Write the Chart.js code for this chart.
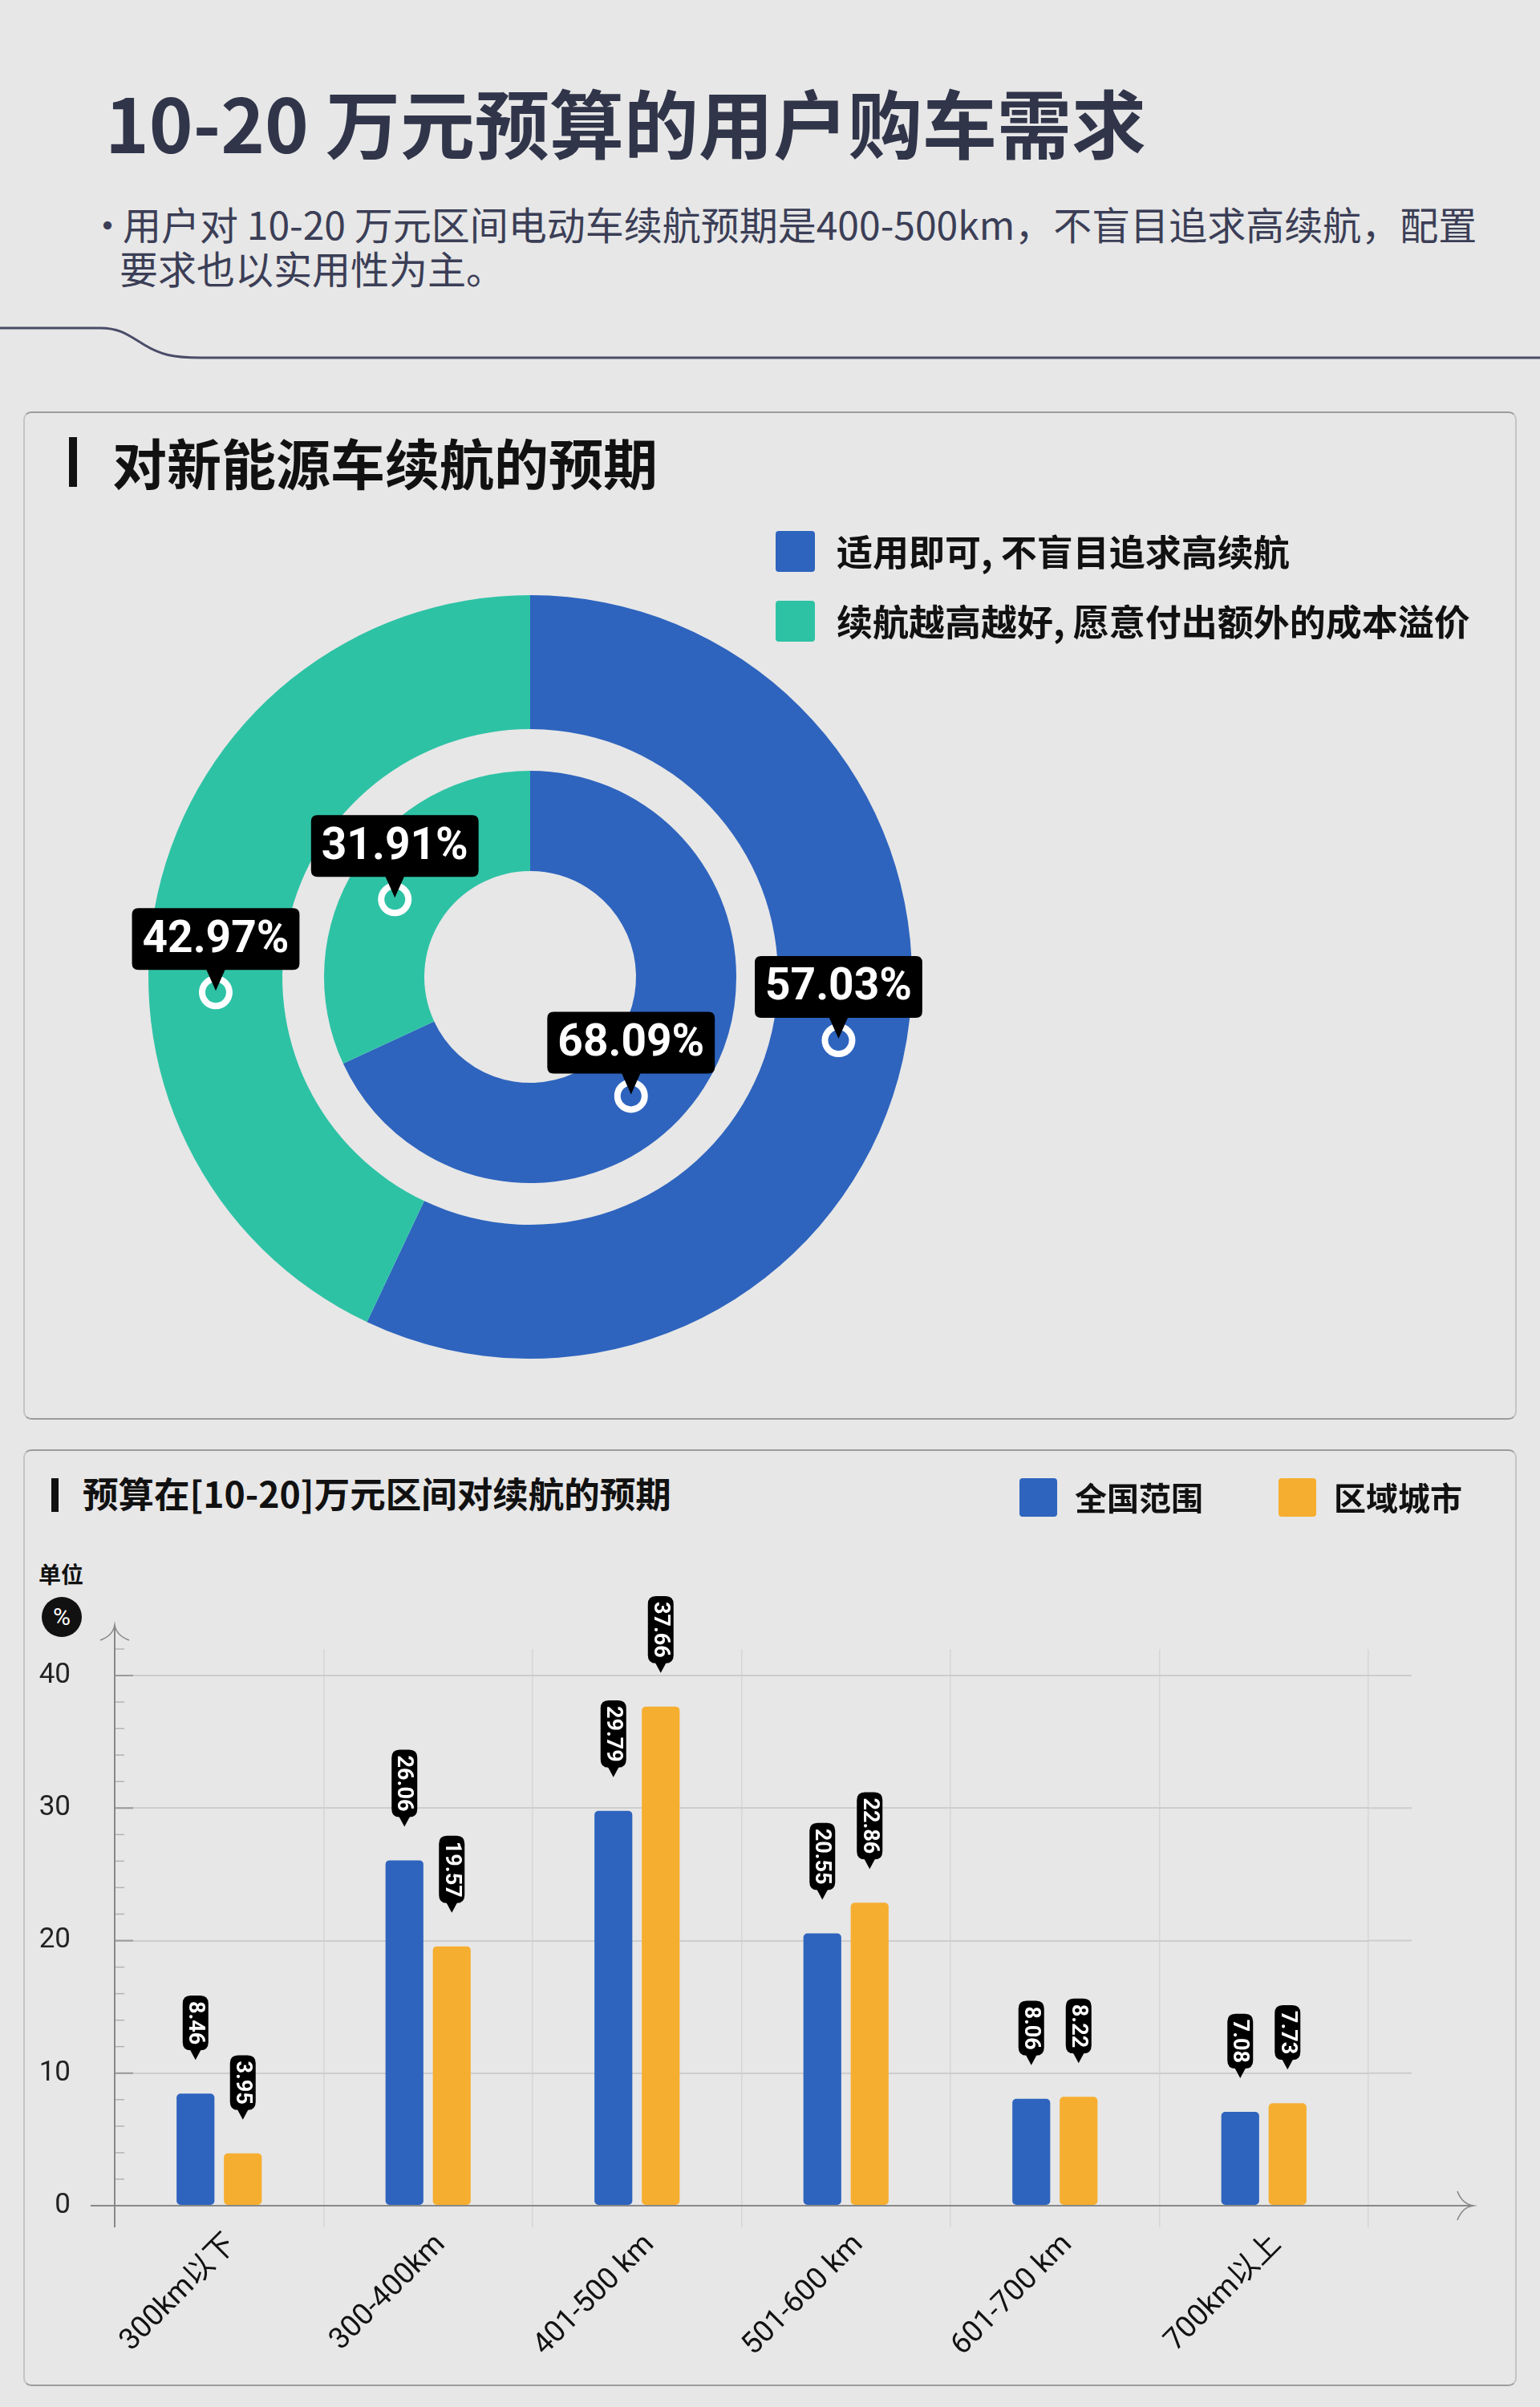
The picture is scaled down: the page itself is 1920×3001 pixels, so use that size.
<!DOCTYPE html>
<html lang="zh-CN">
<head>
<meta charset="utf-8">
<script src="https://cdn.jsdelivr.net/npm/chart.js@4.4.1/dist/chart.umd.min.js"></script>
<style>
html,body{margin:0;padding:0;}
body{width:1920px;height:3001px;background:#e7e7e7;position:relative;overflow:hidden;font-family:"Noto Sans CJK SC","Noto Sans",sans-serif;}
.abs{position:absolute;white-space:nowrap;}
#title{left:131px;top:104px;font-size:93px;line-height:93px;font-weight:700;color:#31354a;}
.sub{font-size:48px;line-height:56px;color:#3b3e56;}
.panel{position:absolute;left:29px;width:1862px;box-sizing:border-box;border:2px solid #c4c4c4;border-top-color:#9c9c9c;border-bottom-color:#9c9c9c;border-radius:10px;}
.ptitle{color:#111;font-weight:700;}
.vbar{position:absolute;background:#111;}
.chartbox{position:absolute;}
#unit{left:48px;top:1944px;font-size:28px;line-height:36px;font-weight:700;color:#111;}
#pct{left:52px;top:1991px;width:50px;height:50px;border-radius:50%;background:#111;color:#fff;font-family:Roboto,sans-serif;font-size:30px;line-height:50px;text-align:center;}
</style>
</head>
<body>
<div id="title" class="abs">10-20 万元预算的用户购车需求</div>
<div class="abs sub" style="left:110px;top:250px;">·</div>
<div class="abs sub" style="left:153px;top:250px;">用户对 10-20 万元区间电动车续航预期是400-500km，不盲目追求高续航，配置</div>
<div class="abs sub" style="left:149px;top:305px;">要求也以实用性为主。</div>
<svg class="abs" style="left:0;top:0;" width="1920" height="480">
  <path d="M0,409 L125,409 C150,409 160,418 180,430 C200,442 215,446 250,446 L1920,446" fill="none" stroke="#4a4d68" stroke-width="3"/>
</svg>

<div class="panel" style="top:513px;height:1257px;"></div>
<div class="vbar" style="left:86px;top:545px;width:10px;height:62px;"></div>
<div class="abs ptitle" style="left:140px;top:538px;font-size:68px;line-height:76px;">对新能源车续航的预期</div>
<div class="chartbox" style="left:29px;top:513px;width:1862px;height:1257px;"><canvas id="ring"></canvas></div>

<div class="panel" style="top:1807px;height:1168px;"></div>
<div class="vbar" style="left:64px;top:1843px;width:9px;height:42px;"></div>
<div class="abs ptitle" style="left:103px;top:1836px;font-size:44.5px;line-height:50px;">预算在[10-20]万元区间对续航的预期</div>
<div id="unit" class="abs">单位</div>
<div id="pct" class="abs">%</div>
<div class="chartbox" style="left:29px;top:1807px;width:1891px;height:1168px;"><canvas id="bars"></canvas></div>

<script>
// ---------- data ----------
const ringLabels = ['适用即可, 不盲目追求高续航', '续航越高越好, 愿意付出额外的成本溢价'];
const outerRing = [57.03, 42.97];
const innerRing = [68.09, 31.91];

const rangeCategories = ['300km以下', '300-400km', '401-500 km', '501-600 km', '601-700 km', '700km以上'];
const seriesNames = ['全国范围', '区域城市'];
const nationalValues = [8.46, 26.06, 29.79, 20.55, 8.06, 7.08];
const regionalValues = [3.95, 19.57, 37.66, 22.86, 8.22, 7.73];
const yMax = 42;
const yStep = 2;
const yLabelStep = 10;

// ---------- styles ----------
const BLUE = '#2e64be', TEAL = '#2ec2a5', ORANGE = '#f6ae30';
const ringColors = [BLUE, TEAL];
Chart.defaults.font.family = 'Roboto, "Noto Sans CJK SC", sans-serif';

function rr(ctx, x, y, w, h, r) {
  ctx.beginPath();
  ctx.moveTo(x + r, y);
  ctx.lineTo(x + w - r, y); ctx.quadraticCurveTo(x + w, y, x + w, y + r);
  ctx.lineTo(x + w, y + h - r); ctx.quadraticCurveTo(x + w, y + h, x + w - r, y + h);
  ctx.lineTo(x + r, y + h); ctx.quadraticCurveTo(x, y + h, x, y + h - r);
  ctx.lineTo(x, y + r); ctx.quadraticCurveTo(x, y, x + r, y);
  ctx.closePath();
}

// legend for the rings (vertical list)
const ringLegend = {
  id: 'ringLegend',
  afterDraw(chart, args, o) {
    const ctx = chart.ctx;
    ctx.save();
    ctx.font = o.font; ctx.textBaseline = 'middle'; ctx.textAlign = 'left';
    chart.data.labels.forEach((lab, i) => {
      const y = o.y + i * o.pitch;
      ctx.fillStyle = chart.data.datasets[0].backgroundColor[i];
      rr(ctx, o.x, y, o.box, o.boxH, 4); ctx.fill();
      ctx.fillStyle = '#111';
      ctx.fillText(lab, o.x + o.box + o.gap, y + o.boxH / 2 + 1);
    });
    ctx.restore();
  }
};

// percentage badges on the rings
const ringBadges = {
  id: 'ringBadges',
  afterDatasetsDraw(chart, args, o) {
    const ctx = chart.ctx;
    ctx.save();
    chart.data.datasets.forEach((ds, di) => {
      if (ds.spacer) return;
      const meta = chart.getDatasetMeta(di);
      const fr = o.anchors[di];
      meta.data.forEach((arc, i) => {
        const p = arc.getProps(['x', 'y', 'startAngle', 'endAngle', 'innerRadius', 'outerRadius'], true);
        const a = p.startAngle + (p.endAngle - p.startAngle) * fr[i];
        const r = (p.innerRadius + p.outerRadius) / 2;
        const mx = p.x + Math.cos(a) * r, my = p.y + Math.sin(a) * r;
        // marker
        ctx.beginPath(); ctx.arc(mx, my, 17, 0, Math.PI * 2);
        ctx.fillStyle = ds.backgroundColor[i]; ctx.fill();
        ctx.lineWidth = 8; ctx.strokeStyle = '#fff'; ctx.stroke();
        // box
        const txt = ds.data[i].toFixed(2) + '%';
        ctx.font = o.font;
        const tw = ctx.measureText(txt).width;
        const w = tw + 26, h = 77;
        const bx = mx - w / 2, by = my - 28 - h;
        ctx.fillStyle = '#000';
        rr(ctx, bx, by, w, h, 8); ctx.fill();
        ctx.beginPath();
        ctx.moveTo(mx - 12, by + h - 1); ctx.lineTo(mx + 12, by + h - 1); ctx.lineTo(mx, my - 2);
        ctx.closePath(); ctx.fill();
        ctx.fillStyle = '#fff'; ctx.textAlign = 'center'; ctx.textBaseline = 'middle';
        ctx.fillText(txt, mx, by + h / 2 + 2);
      });
    });
    ctx.restore();
  }
};

new Chart(document.getElementById('ring'), {
  type: 'doughnut',
  data: {
    labels: ringLabels,
    datasets: [
      { label: '外环', data: outerRing, backgroundColor: ringColors, borderWidth: 0, weight: 167 },
      { label: '', data: [1], backgroundColor: ['rgba(0,0,0,0)'], borderWidth: 0, weight: 52, spacer: true },
      { label: '内环', data: innerRing, backgroundColor: ringColors, borderWidth: 0, weight: 125 }
    ]
  },
  options: {
    responsive: true, maintainAspectRatio: false, animation: false, events: [],
    cutout: '27.73%',
    layout: { padding: { left: 156, top: 229, right: 754, bottom: 76 } },
    plugins: {
      legend: { display: false }, tooltip: { enabled: false },
      ringLegend: { x: 938, y: 149, box: 49, boxH: 51, gap: 27, pitch: 87, font: '700 45px "Noto Sans CJK SC"' },
      ringBadges: { anchors: [[0.495, 0.40], null, [0.57, 0.476]], font: '700 55px Roboto' }
    }
  },
  plugins: [ringLegend, ringBadges]
});

// legend for the bar series (horizontal)
const seriesLegend = {
  id: 'seriesLegend',
  afterDraw(chart, args, o) {
    const ctx = chart.ctx;
    ctx.save();
    ctx.font = o.font; ctx.textBaseline = 'middle'; ctx.textAlign = 'left';
    let x = o.x;
    chart.data.datasets.forEach(ds => {
      ctx.fillStyle = ds.backgroundColor;
      rr(ctx, x, o.y, o.box, o.boxH, 4); ctx.fill();
      ctx.fillStyle = '#111';
      const tx = x + o.box + o.gap;
      ctx.fillText(ds.label, tx, o.y + o.boxH / 2 + 1);
      x = tx + ctx.measureText(ds.label).width + o.itemGap;
    });
    ctx.restore();
  }
};

// vertical value pills above bars
const valuePills = {
  id: 'valuePills',
  afterDatasetsDraw(chart, args, o) {
    const ctx = chart.ctx;
    ctx.save();
    chart.data.datasets.forEach((ds, di) => {
      const meta = chart.getDatasetMeta(di);
      meta.data.forEach((bar, i) => {
        const { x, y } = bar.getProps(['x', 'y'], true);
        const txt = ds.data[i].toFixed(2);
        ctx.font = o.font;
        const L = ctx.measureText(txt).width + 2 * o.pad;
        const tip = y - o.gap, pb = tip - o.arrow, pt = pb - L;
        ctx.fillStyle = '#000';
        rr(ctx, x - o.w / 2, pt, o.w, L, o.r); ctx.fill();
        ctx.beginPath();
        ctx.moveTo(x - 7, pb - 1); ctx.lineTo(x + 7, pb - 1); ctx.lineTo(x, tip); ctx.closePath(); ctx.fill();
        ctx.save();
        ctx.translate(x, (pt + pb) / 2); ctx.rotate(Math.PI / 2);
        ctx.fillStyle = '#fff'; ctx.textAlign = 'center'; ctx.textBaseline = 'middle';
        ctx.fillText(txt, 0, 1);
        ctx.restore();
      });
    });
    ctx.restore();
  }
};

// axis lines with arrows, inner tick marks, grid extension
const axisDecor = {
  id: 'axisDecor',
  afterDraw(chart, args, o) {
    const ctx = chart.ctx;
    const { left: L, right: R, top: T, bottom: B } = chart.chartArea;
    const ys = chart.scales.y;
    ctx.save();
    ys.ticks.forEach(t => {
      const v = t.value;
      if (v === 0) return;
      const py = ys.getPixelForValue(v);
      const major = v % yLabelStep === 0;
      ctx.strokeStyle = major ? '#9a9a9a' : '#b3b3b3';
      ctx.lineWidth = major ? 2 : 1.5;
      ctx.beginPath(); ctx.moveTo(L, py); ctx.lineTo(L + (major ? 23 : 12), py); ctx.stroke();
      if (major) {
        ctx.strokeStyle = '#cdcdcd'; ctx.lineWidth = 2;
        ctx.beginPath(); ctx.moveTo(R, py); ctx.lineTo(R + o.gridExt, py); ctx.stroke();
      }
    });
    ctx.strokeStyle = '#888'; ctx.lineWidth = 2;
    // y axis
    const ay = T - o.yArrow;
    ctx.beginPath(); ctx.moveTo(L, ay); ctx.lineTo(L, B + 27); ctx.stroke();
    ctx.lineWidth = 1.6;
    ctx.beginPath();
    ctx.moveTo(L - 18, ay + 19); ctx.quadraticCurveTo(L - 2, ay + 13, L, ay);
    ctx.quadraticCurveTo(L + 2, ay + 13, L + 18, ay + 19);
    ctx.stroke();
    // x axis
    const ax = R + o.xArrow;
    ctx.lineWidth = 2;
    ctx.beginPath(); ctx.moveTo(L - 30, B); ctx.lineTo(ax, B); ctx.stroke();
    ctx.lineWidth = 1.6;
    ctx.beginPath();
    ctx.moveTo(ax - 20, B - 18); ctx.quadraticCurveTo(ax - 14, B - 2, ax, B);
    ctx.quadraticCurveTo(ax - 14, B + 2, ax - 20, B + 18);
    ctx.stroke();
    ctx.restore();
  }
};

new Chart(document.getElementById('bars'), {
  type: 'bar',
  data: {
    labels: rangeCategories,
    datasets: [
      { label: seriesNames[0], data: nationalValues, backgroundColor: BLUE, borderRadius: 5, borderSkipped: false, categoryPercentage: 0.453, barPercentage: 0.8 },
      { label: seriesNames[1], data: regionalValues, backgroundColor: ORANGE, borderRadius: 5, borderSkipped: false, categoryPercentage: 0.453, barPercentage: 0.8 }
    ]
  },
  options: {
    responsive: true, maintainAspectRatio: false, animation: false, events: [],
    layout: { padding: { left: 0, top: 249, right: 214, bottom: 0 } },
    scales: {
      x: {
        grid: { offset: true, color: '#d6d6d6', lineWidth: 1.5, drawTicks: true, tickLength: 27, tickColor: '#d6d6d6' },
        border: { display: false },
        ticks: { maxRotation: 45, minRotation: 45, autoSkip: false, labelOffset: 16, padding: 0, color: '#111', font: { size: 37 } },
        afterFit: s => { s.height = 225; }
      },
      y: {
        min: 0, max: yMax,
        grid: {
          color: c => (c.tick && c.tick.value % yLabelStep === 0 && c.tick.value !== 0) ? '#cdcdcd' : 'rgba(0,0,0,0)',
          lineWidth: 2, drawTicks: false
        },
        border: { display: false },
        ticks: { stepSize: yStep, autoSkip: false, padding: 55, color: '#222', font: { size: 35, family: 'Roboto' },
          callback: v => (v % yLabelStep === 0 ? String(v) : '') },
        afterFit: s => { s.width = 114; }
      }
    },
    plugins: {
      legend: { display: false }, tooltip: { enabled: false },
      seriesLegend: { x: 1242, y: 36, box: 47, boxH: 48, gap: 22, itemGap: 94, font: '700 40px "Noto Sans CJK SC"' },
      valuePills: { gap: 42, arrow: 12, w: 32, pad: 7, r: 10, font: '700 27px Roboto' },
      axisDecor: { yArrow: 30, xArrow: 131, gridExt: 54 }
    }
  },
  plugins: [seriesLegend, valuePills, axisDecor]
});
</script>
</body>
</html>
